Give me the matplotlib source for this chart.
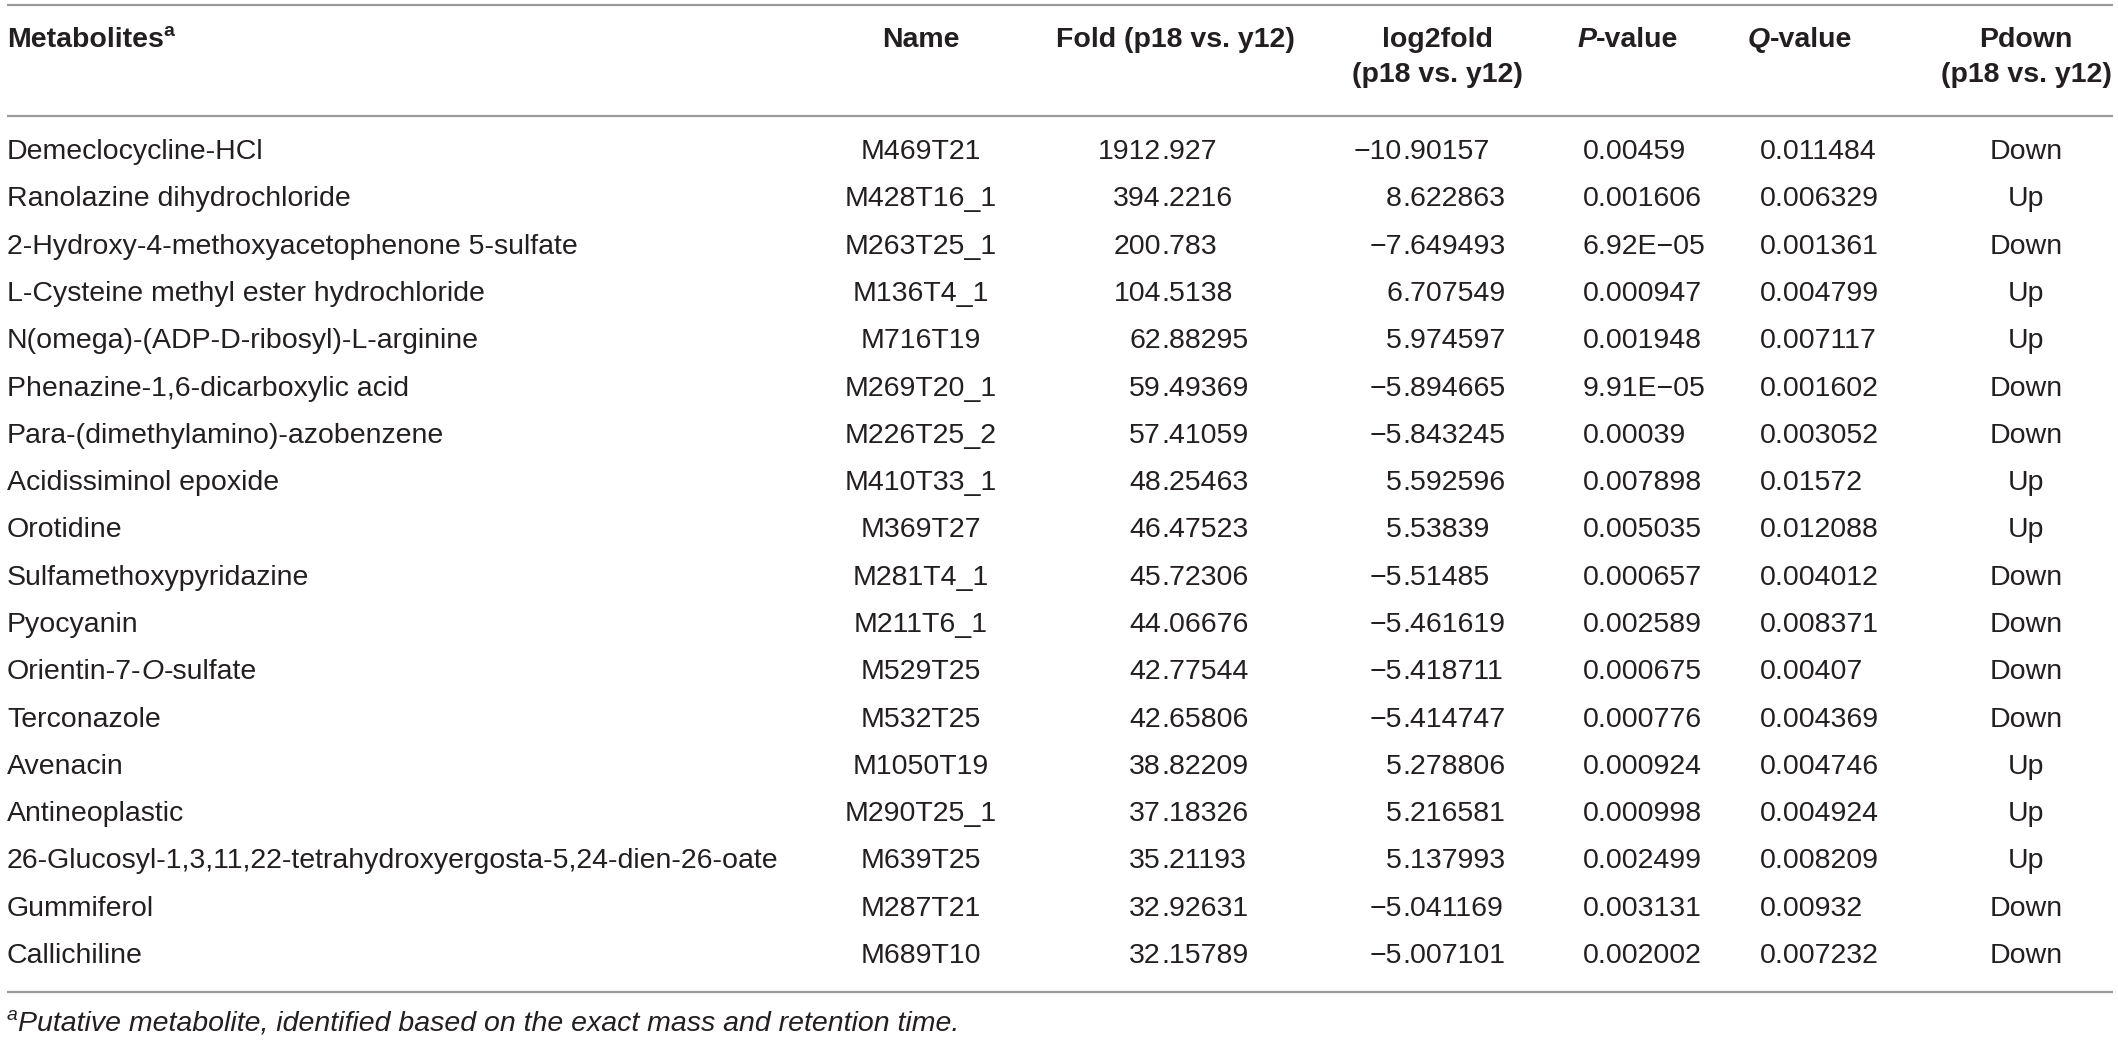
import matplotlib
matplotlib.use('Agg')
import matplotlib.pyplot as plt

# table content
metabolites = [
    "Demeclocycline-HCl", "Ranolazine dihydrochloride",
    "2-Hydroxy-4-methoxyacetophenone 5-sulfate",
    "L-Cysteine methyl ester hydrochloride",
    "N(omega)-(ADP-D-ribosyl)-L-arginine", "Phenazine-1,6-dicarboxylic acid",
    "Para-(dimethylamino)-azobenzene", "Acidissiminol epoxide", "Orotidine",
    "Sulfamethoxypyridazine", "Pyocyanin", "Orientin-7-O-sulfate",
    "Terconazole", "Avenacin", "Antineoplastic",
    "26-Glucosyl-1,3,11,22-tetrahydroxyergosta-5,24-dien-26-oate",
    "Gummiferol", "Callichiline",
]
names = [
    "M469T21", "M428T16_1", "M263T25_1", "M136T4_1", "M716T19", "M269T20_1",
    "M226T25_2", "M410T33_1", "M369T27", "M281T4_1", "M211T6_1", "M529T25",
    "M532T25", "M1050T19", "M290T25_1", "M639T25", "M287T21", "M689T10",
]
fold = [
    "1912.927", "394.2216", "200.783", "104.5138", "62.88295", "59.49369",
    "57.41059", "48.25463", "46.47523", "45.72306", "44.06676", "42.77544",
    "42.65806", "38.82209", "37.18326", "35.21193", "32.92631", "32.15789",
]
log2fold = [
    "\u221210.90157", "8.622863", "\u22127.649493", "6.707549", "5.974597",
    "\u22125.894665", "\u22125.843245", "5.592596", "5.53839", "\u22125.51485",
    "\u22125.461619", "\u22125.418711", "\u22125.414747", "5.278806",
    "5.216581", "5.137993", "\u22125.041169", "\u22125.007101",
]
p_values = [
    "0.00459", "0.001606", "6.92E\u221205", "0.000947", "0.001948",
    "9.91E\u221205", "0.00039", "0.007898", "0.005035", "0.000657",
    "0.002589", "0.000675", "0.000776", "0.000924", "0.000998", "0.002499",
    "0.003131", "0.002002",
]
q_values = [
    "0.011484", "0.006329", "0.001361", "0.004799", "0.007117", "0.001602",
    "0.003052", "0.01572", "0.012088", "0.004012", "0.008371", "0.00407",
    "0.004369", "0.004746", "0.004924", "0.008209", "0.00932", "0.007232",
]
pdown = [
    "Down", "Up", "Down", "Up", "Up", "Down", "Down", "Up", "Up", "Down",
    "Down", "Down", "Down", "Up", "Up", "Up", "Down", "Down",
]
footnote = "Putative metabolite, identified based on the exact mass and retention time."

W, H = 2118, 1040
FONT = "Liberation Sans"
FS = 20.5
TXT = "#231f20"
LINE = "#9a9a9a"

fig = plt.figure(figsize=(W / 100, H / 100), dpi=100)
ax = fig.add_axes([0, 0, 1, 1])
ax.set_xlim(0, W)
ax.set_ylim(H, 0)
ax.axis("off")
renderer = fig.canvas.get_renderer()


def width_of(t):
    bb = t.get_window_extent(renderer=renderer)
    return bb.width


def runs(x, y, parts, ha="left"):
    # parts: list of (text, dict) drawn side by side
    objs = []
    for s, kw in parts:
        style = dict(fontsize=FS, family=FONT, color=TXT, va="center")
        style.update(kw)
        dy = style.pop("dy", 0)
        objs.append((ax.text(0, y + dy, s, ha="left", **style)))
    total = sum(width_of(o) for o in objs)
    if ha == "center":
        x0 = x - total / 2
    elif ha == "right":
        x0 = x - total
    else:
        x0 = x
    for o in objs:
        o.set_x(x0)
        x0 += width_of(o)


# rules
left, right = 7, 2113
for yy in (5, 116, 992):
    ax.plot([left, right], [yy, yy], color=LINE, lw=1.6, solid_capstyle="butt")

# header
b = {"weight": "bold"}
sup_b = {"weight": "bold", "fontsize": FS * 0.68, "dy": -8}
hy1, hy2 = 40, 75
runs(left, hy1, [("Metabolites", b), ("a", sup_b)])
runs(921, hy1, [("Name", b)], ha="center")
runs(1175, hy1, [("Fold (p18 vs. y12)", b)], ha="center")
runs(1437, hy1, [("log2fold", b)], ha="center")
runs(1437, hy2, [("(p18 vs. y12)", b)], ha="center")
runs(1628, hy1, [("P", {"weight": "bold", "style": "italic"}), ("-value", b)], ha="center")
runs(1800, hy1, [("Q", {"weight": "bold", "style": "italic"}), ("-value", b)], ha="center")
runs(2026, hy1, [("Pdown", b)], ha="center")
runs(2026, hy2, [("(p18 vs. y12)", b)], ha="center")

# body
row0, row_h = 152, 47.3
txt = dict(fontsize=FS, family=FONT, color=TXT, va="center")
for i in range(len(metabolites)):
    y = row0 + i * row_h
    m = metabolites[i]
    if "-O-" in m:
        a, c = m.split("-O-")
        runs(left, y, [(a + "-", {}), ("O", {"style": "italic"}), ("-" + c, {})])
    else:
        ax.text(left, y, m, ha="left", **txt)
    ax.text(921, y, names[i], ha="center", **txt)
    # decimal-aligned numeric columns
    for col, xdec in ((fold, 1161), (log2fold, 1402)):
        ip, fp = col[i].split(".")
        ax.text(xdec, y, ip, ha="right", **txt)
        ax.text(xdec, y, "." + fp, ha="left", **txt)
    ax.text(1583, y, p_values[i], ha="left", **txt)
    ax.text(1760, y, q_values[i], ha="left", **txt)
    ax.text(2026, y, pdown[i], ha="center", **txt)

# footnote
runs(left, 1023, [("a", {"style": "italic", "fontsize": FS * 0.68, "dy": -7}),
                  (footnote, {"style": "italic"})])

fig.savefig("out.png", dpi=100)
